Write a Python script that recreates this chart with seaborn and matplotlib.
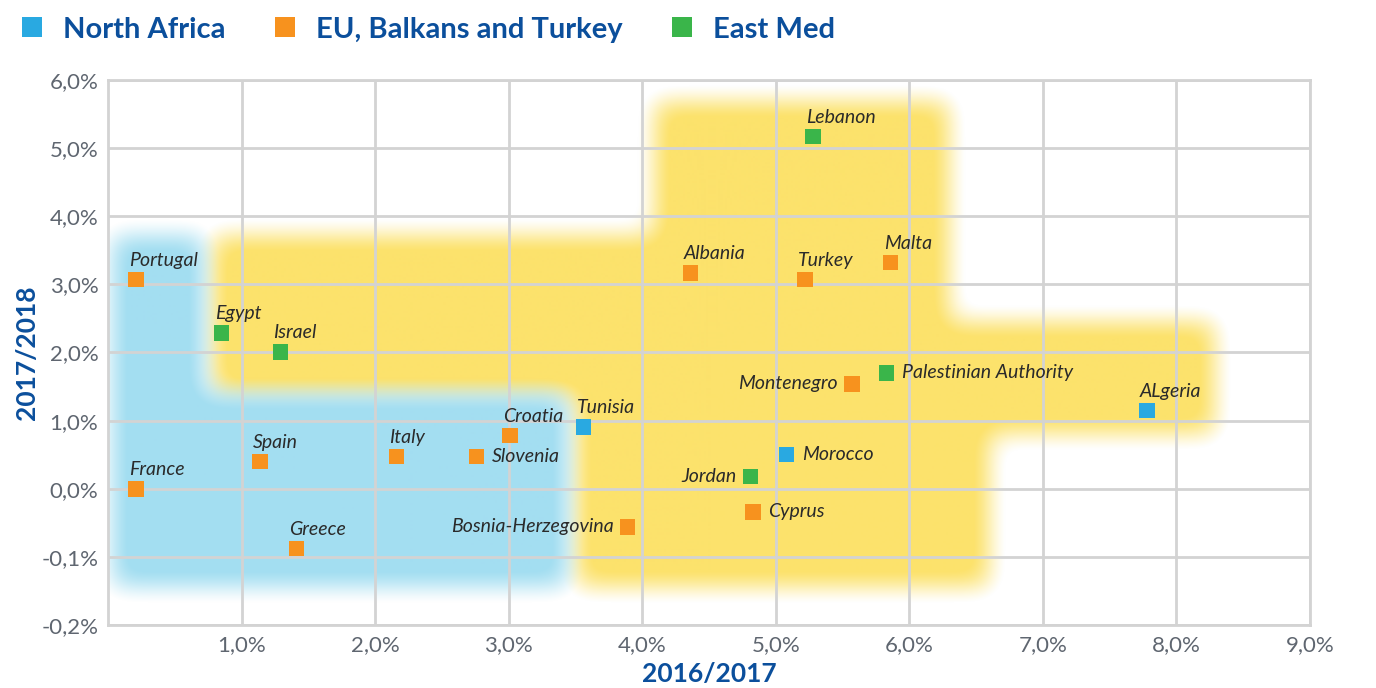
import numpy as np
import pandas as pd
import matplotlib
matplotlib.use("Agg")
import matplotlib.pyplot as plt
import seaborn as sns

# values (y axis units follow the printed tick labels)
countries = ["Portugal", "France", "Egypt", "Israel", "Spain", "Greece", "Italy",
             "Slovenia", "Croatia", "Tunisia", "Bosnia-Herzegovina", "Albania",
             "Turkey", "Malta", "Lebanon", "Montenegro", "Palestinian Authority",
             "ALgeria", "Morocco", "Jordan", "Cyprus"]
growth_1617 = [0.21, 0.21, 0.85, 1.29, 1.14, 1.41, 2.16, 2.76, 3.01, 3.56, 3.89, 4.36,
               5.22, 5.86, 5.28, 5.57, 5.83, 7.78, 5.08, 4.81, 4.83]
growth_1718 = [3.07, 0.0, 2.29, 2.01, 0.40, -0.88, 0.47, 0.47, 0.78, 0.91, -0.56, 3.17,
               3.07, 3.32, 5.17, 1.54, 1.70, 1.15, 0.50, 0.18, -0.34]
regions = ["EU, Balkans and Turkey", "EU, Balkans and Turkey", "East Med", "East Med",
           "EU, Balkans and Turkey", "EU, Balkans and Turkey", "EU, Balkans and Turkey",
           "EU, Balkans and Turkey", "EU, Balkans and Turkey", "North Africa",
           "EU, Balkans and Turkey", "EU, Balkans and Turkey", "EU, Balkans and Turkey",
           "EU, Balkans and Turkey", "East Med", "EU, Balkans and Turkey", "East Med",
           "North Africa", "North Africa", "East Med", "EU, Balkans and Turkey"]
region_order = ["North Africa", "EU, Balkans and Turkey", "East Med"]
x_ticks = [1, 2, 3, 4, 5, 6, 7, 8, 9]
x_ticklabels = ["1,0%", "2,0%", "3,0%", "4,0%", "5,0%", "6,0%", "7,0%", "8,0%", "9,0%"]
y_ticks = [-2, -1, 0, 1, 2, 3, 4, 5, 6]
y_ticklabels = ["-0,2%", "-0,1%", "0,0%", "1,0%", "2,0%", "3,0%", "4,0%", "5,0%", "6,0%"]

# label placement (style only)
right_labels = {"Slovenia", "Morocco", "Cyprus", "Palestinian Authority"}
left_labels = {"Montenegro", "Jordan", "Bosnia-Herzegovina"}

palette = {"North Africa": "#29a9e1", "EU, Balkans and Turkey": "#f7921e",
           "East Med": "#3ab54a"}
title_blue = "#0b4f9c"
tick_grey = "#5f6670"

df = pd.DataFrame({"country": countries, "x": growth_1617, "y": growth_1718,
                   "region": regions})

sns.set_style("white")
plt.rcParams["font.family"] = ["Lato", "DejaVu Sans"]

fig = plt.figure(figsize=(13.76, 6.88), dpi=100)
ax = fig.add_axes([0.0785, 0.0916, 0.8735, 0.7921])

# soft highlighted zones behind the points
blue_zone = [(0.03, 0.72, -1.45, 3.72), (0.03, 3.44, -1.45, 1.40)]
yellow_zone = [(0.78, 6.30, 1.38, 3.72), (4.09, 6.30, 1.38, 5.70),
               (6.30, 8.29, 0.80, 2.45), (3.50, 6.60, -1.45, 1.38)]


def zone_alpha(rects, nx=1200, ny=544, sigma=13.0):
    xs = np.linspace(0, 9, nx)
    ys = np.linspace(-2, 6, ny)
    m = np.zeros((ny, nx))
    for x0, x1, y0, y1 in rects:
        m[np.ix_((ys >= y0) & (ys <= y1), (xs >= x0) & (xs <= x1))] = 1.0
    r = np.arange(-int(3 * sigma), int(3 * sigma) + 1)
    k = np.exp(-0.5 * (r / sigma) ** 2)
    k /= k.sum()
    m = np.apply_along_axis(lambda v: np.convolve(v, k, mode="same"), 1, m)
    m = np.apply_along_axis(lambda v: np.convolve(v, k, mode="same"), 0, m)
    return np.clip((m - 0.5) * 1.3 + 0.5, 0, 1)[..., None]


a_y = zone_alpha(yellow_zone)
a_b = zone_alpha(blue_zone)
yellow = np.array([252, 226, 108]) / 255
blue = np.array([163, 222, 241]) / 255
img = np.ones_like(a_y) * (1 - a_y) + yellow * a_y
img = img * (1 - a_b) + blue * a_b
ax.imshow(img, extent=[0, 9, -2, 6], origin="lower", aspect="auto", zorder=0)

sns.scatterplot(data=df, x="x", y="y", hue="region", hue_order=region_order,
                palette=palette, marker="s", s=125, linewidth=0, ax=ax, zorder=3)

for _, row in df.iterrows():
    if row["country"] in right_labels:
        off, ha, va = (11, 0), "left", "center"
    elif row["country"] in left_labels:
        off, ha, va = (-10, 0), "right", "center"
    else:
        off, ha, va = (-5, 10), "left", "baseline"
    ax.annotate(row["country"], (row["x"], row["y"]), xytext=off,
                textcoords="offset points", ha=ha, va=va, fontsize=14,
                style="italic", color="#2a2a2a", zorder=4)

ax.set_xlim(0, 9)
ax.set_ylim(-2, 6)
ax.set_xticks(x_ticks)
ax.set_xticklabels(x_ticklabels)
ax.set_yticks(y_ticks)
ax.set_yticklabels(y_ticklabels)
ax.tick_params(colors=tick_grey, labelsize=16, length=0, pad=7)
ax.grid(True, color="#d3d3d3", linewidth=2)
ax.set_axisbelow(True)
for sp in ax.spines.values():
    sp.set_color("#d3d3d3")
    sp.set_linewidth(2)

ax.set_xlabel("2016/2017", fontsize=19, fontweight="bold", color=title_blue, labelpad=5)
ax.set_ylabel("2017/2018", fontsize=19, fontweight="bold", color=title_blue, labelpad=2)

handles, labels = ax.get_legend_handles_labels()
ax.legend_.remove()
leg = fig.legend(handles, labels, loc="center left", bbox_to_anchor=(0.014, 0.957),
                 ncol=3, frameon=False, markerscale=1.35, handlelength=0.9,
                 handletextpad=0.6, columnspacing=1.6, borderpad=0,
                 borderaxespad=0, prop={"size": 21, "weight": "bold"})
for t in leg.get_texts():
    t.set_color(title_blue)

fig.savefig("out.png", dpi=100)
plt.close()
